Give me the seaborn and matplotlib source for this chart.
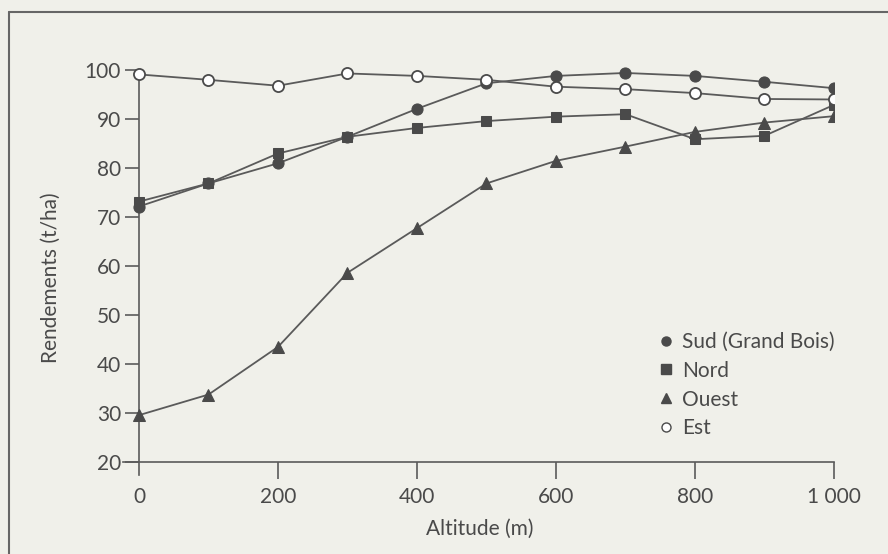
import matplotlib
matplotlib.use("Agg")
import matplotlib.pyplot as plt
from matplotlib.lines import Line2D
import seaborn as sns
import pandas as pd

# altitude (m) and yields (t/ha)
altitude = [0, 100, 200, 300, 400, 500, 600, 700, 800, 900, 1000]
sud = [72.1, 76.8, 80.9, 86.3, 92.0, 97.2, 98.7, 99.3, 98.7, 97.5, 96.2]
nord = [73.1, 76.8, 82.9, 86.3, 88.1, 89.5, 90.4, 90.9, 85.8, 86.5, 92.8]
ouest = [29.6, 33.8, 43.5, 58.6, 67.7, 76.8, 81.4, 84.3, 87.3, 89.2, 90.5]
est = [99.0, 97.9, 96.7, 99.2, 98.7, 97.9, 96.5, 96.0, 95.2, 94.0, 93.9]

series = ["Sud (Grand Bois)", "Nord", "Ouest", "Est"]
x_ticks = [0, 200, 400, 600, 800, 1000]
x_ticklabels = ["0", "200", "400", "600", "800", "1 000"]
y_ticks = [20, 30, 40, 50, 60, 70, 80, 90, 100]

df = pd.DataFrame({
    "Altitude": altitude * 4,
    "Rendement": sud + nord + ouest + est,
    "Site": [s for s in series for _ in altitude],
})

paper = "#f0f0ea"
ink = "#4a4a4a"
line_col = "#5a5a5a"
fs = 15

sns.set_style("white")
plt.rcParams["font.family"] = ["Lato", "DejaVu Sans"]

fig = plt.figure(figsize=(8.88, 5.54), dpi=100, facecolor=paper)
ax = fig.add_axes([123 / 888, 1 - 462.3 / 554, 711 / 888, 402.6 / 554])
ax.set_facecolor(paper)

styles = {
    "Sud (Grand Bois)": dict(marker="o", markersize=8, mfc=ink, mec=ink),
    "Nord": dict(marker="s", markersize=7.5, mfc=ink, mec=ink),
    "Ouest": dict(marker="^", markersize=8, mfc=ink, mec=ink),
    "Est": dict(marker="o", markersize=8, mfc="white", mec=ink, mew=1.3),
}

for s in series:
    sns.lineplot(data=df[df["Site"] == s], x="Altitude", y="Rendement",
                 color=line_col, lw=1.3, ax=ax, legend=False, **styles[s])

ax.set_xlim(-23, 1000)
ax.set_ylim(20, 102)
ax.set_xticks(x_ticks)
ax.set_xticklabels(x_ticklabels)
ax.set_yticks(y_ticks)

for side in ["top", "right"]:
    ax.spines[side].set_visible(False)
ax.spines["left"].set_position(("data", 0))
ax.spines["left"].set_bounds(17.5, 100)
ax.spines["left"].set_zorder(0)
for side in ["left", "bottom"]:
    ax.spines[side].set_color(line_col)
    ax.spines[side].set_linewidth(1.2)

ax.tick_params(axis="y", direction="out", length=10, width=1.2, color=line_col,
               labelsize=fs, labelcolor=ink, pad=3, left=True)
ax.tick_params(axis="x", direction="out", length=12, width=1.2, color=line_col,
               labelsize=fs, labelcolor=ink, pad=6, bottom=True)
# the y spine already makes the tick at 0
ax.xaxis.get_major_ticks()[0].tick1line.set_visible(False)

ax.set_xlabel("Altitude (m)", fontsize=fs, color=ink)
ax.set_ylabel("Rendements (t/ha)", fontsize=fs, color=ink)
ax.xaxis.set_label_coords(0.502, -0.14)
ax.yaxis.set_label_coords(-0.088, 0.458)

handles = [Line2D([], [], linestyle="none", marker=styles[s]["marker"],
                  markersize=6.5, markerfacecolor=styles[s]["mfc"],
                  markeredgecolor=ink, markeredgewidth=1.0) for s in series]
ax.legend(handles, series, loc="upper left", frameon=False, fontsize=fs,
          handlelength=0.8, handletextpad=0.35, labelspacing=0.42,
          borderpad=0, borderaxespad=0, labelcolor=ink,
          bbox_to_anchor=(658 / 888, 1 - 332 / 554),
          bbox_transform=fig.transFigure)

# scanned page frame
fig.add_artist(Line2D([9 / 888, 9 / 888], [0, 1 - 12 / 554], color="#666666",
                      lw=1.5, transform=fig.transFigure))
fig.add_artist(Line2D([9 / 888, 1], [1 - 12 / 554, 1 - 12 / 554], color="#666666",
                      lw=1.5, transform=fig.transFigure))

fig.savefig("out.png", dpi=100, facecolor=paper)
